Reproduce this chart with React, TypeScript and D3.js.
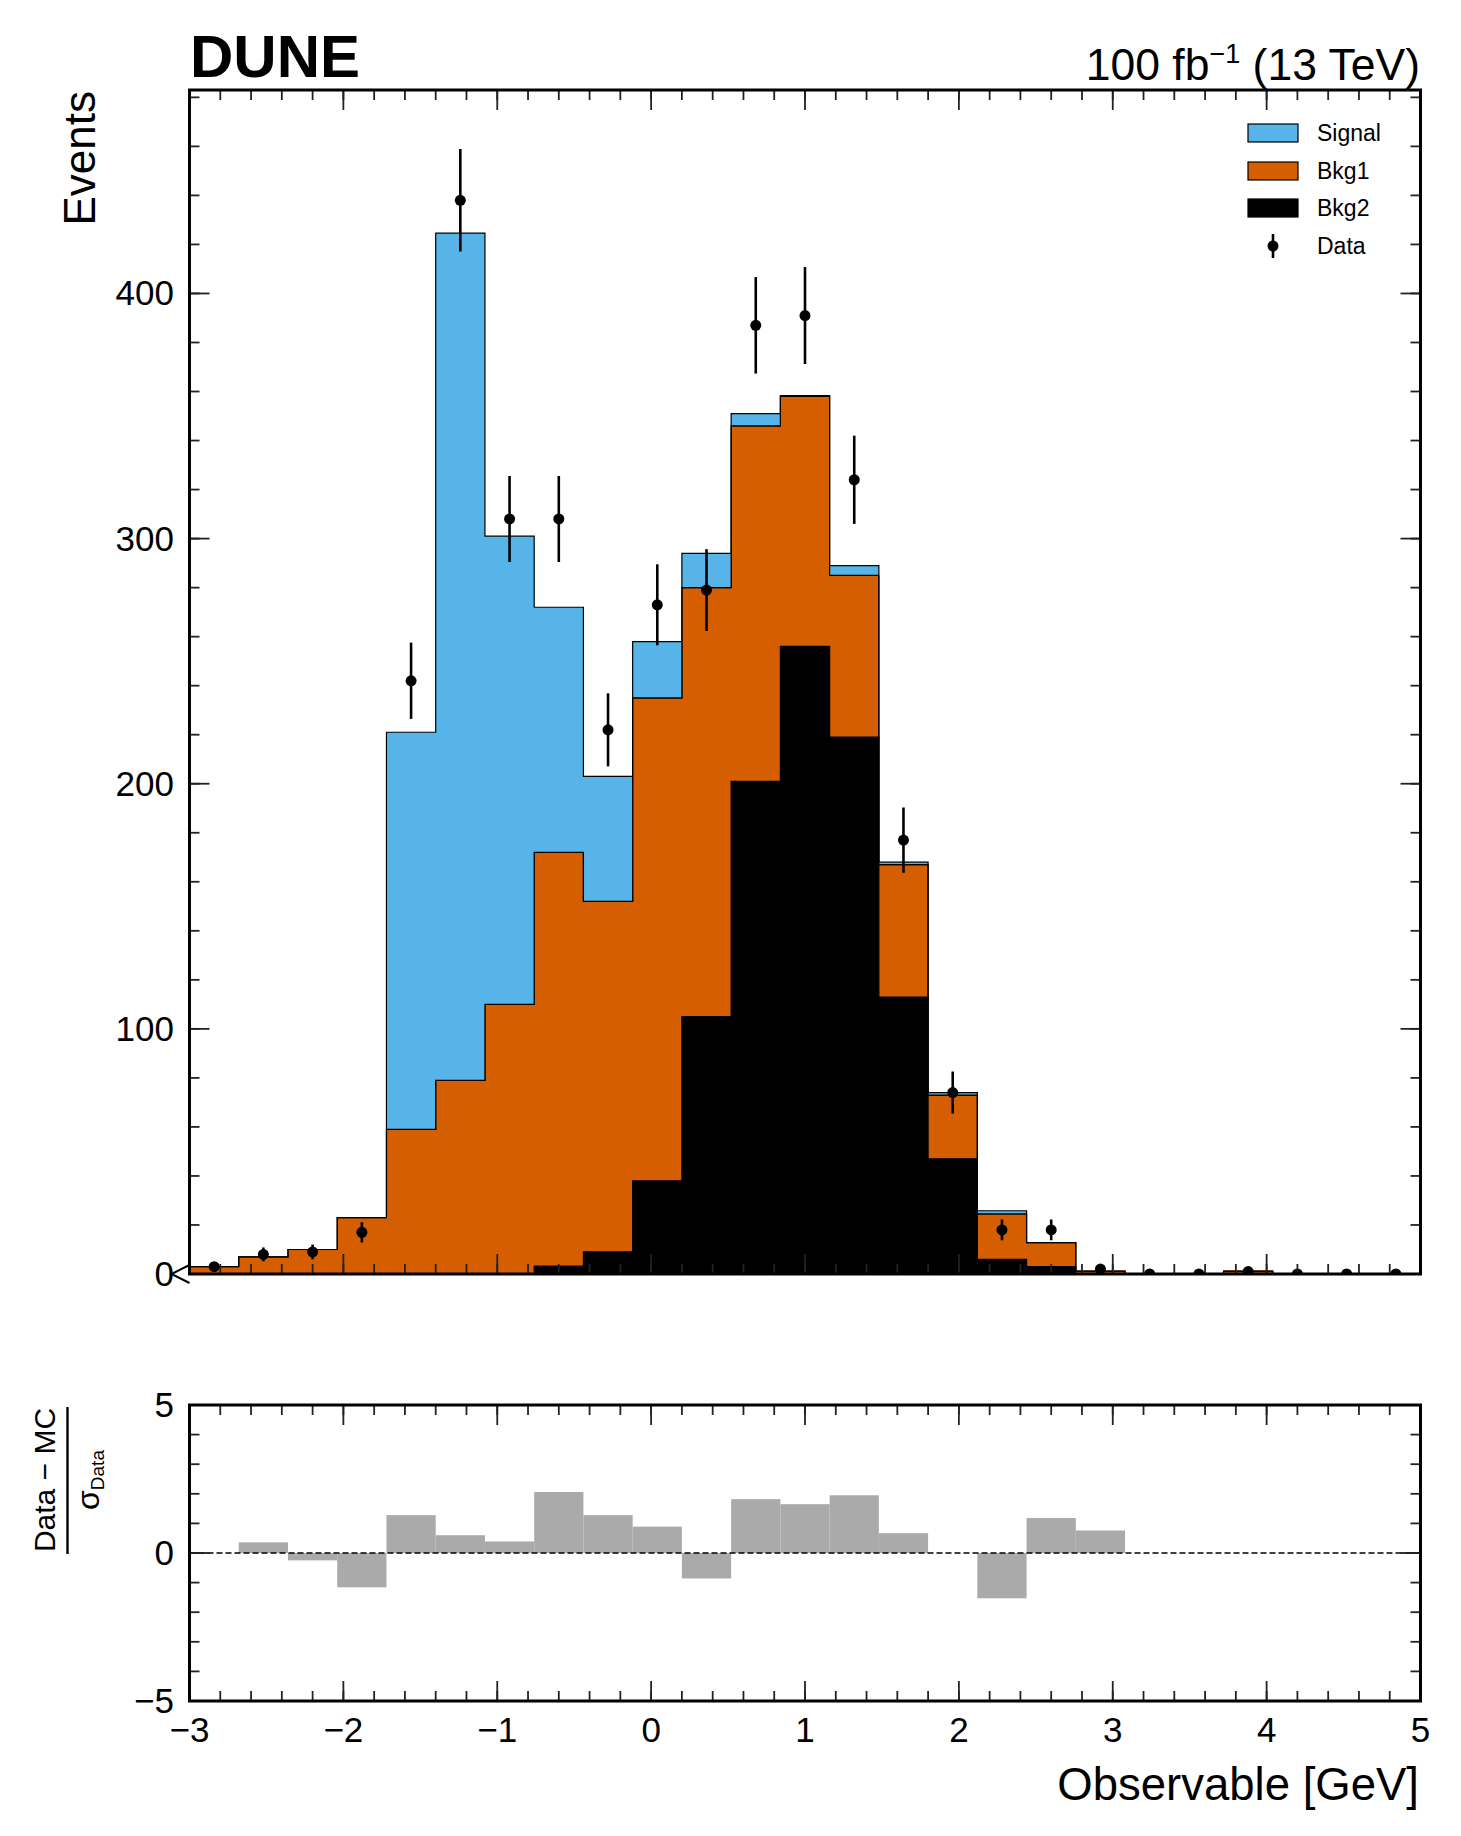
import React from "react";
import * as d3 from "d3";

const binEdges = [-3, -2.68, -2.36, -2.04, -1.72, -1.4, -1.08, -0.76, -0.44, -0.12, 0.2, 0.52, 0.84, 1.16, 1.48, 1.8, 2.12, 2.44, 2.76, 3.08, 3.4, 3.72, 4.04, 4.36, 4.68, 5];

const bkg2 = [0, 0, 0, 0, 0, 0, 0, 3.2, 9, 38, 105, 201, 256, 219, 113, 47, 6, 3, 0, 0, 0, 0, 0, 0, 0];
const bkg1 = [3, 7, 10, 23, 59, 79, 110, 168.8, 143, 197, 175, 145, 102, 66, 54, 26, 18.5, 9.8, 1.2, 0, 0, 1.2, 0, 0, 0];
const signal = [0, 0, 0, 0, 162, 345.6, 191, 100, 51, 23, 14, 5, 0.3, 4, 1, 1, 1.3, 0, 0, 0, 0, 0, 0, 0, 0];
const dataCounts = [3, 8, 9, 17, 242, 438, 308, 308, 222, 273, 279, 387, 391, 324, 177, 74, 18, 18, 2, 0, 0, 1, 0, 0, 0];
const pulls = [0, 0.36, -0.25, -1.16, 1.28, 0.6, 0.39, 2.06, 1.28, 0.89, -0.86, 1.82, 1.65, 1.95, 0.67, 0, -1.53, 1.18, 0.76, 0, 0, 0, 0, 0, 0];

const layerNames = ["Bkg2", "Bkg1", "Signal"];
const layerColors = ["#000000", "#D55E00", "#56B4E9"];
const yTickLabels = [0, 100, 200, 300, 400];
const xTickLabels = [-3, -2, -1, 0, 1, 2, 3, 4, 5];
const pullTickLabels = [-5, 0, 5];

const W = 1461;
const H = 1836;
const L = 189.5;
const R = 1420.5;
const mainTop = 90;
const mainBottom = 1274;
const pullTop = 1405;
const pullBottom = 1701;
const yMax = 483;

const FONT = "'Liberation Sans', Arial, Helvetica, sans-serif";

const fmt = (v: number) => (v < 0 ? "\u2212" + Math.abs(v) : String(v));

export default function App() {
  const x = d3.scaleLinear().domain([-3, 5]).range([L, R]);
  const y = d3.scaleLinear().domain([0, yMax]).range([mainBottom, mainTop]);
  const yp = d3.scaleLinear().domain([-5, 5]).range([pullBottom, pullTop]);

  const layers = [bkg2, bkg1, signal];
  let base = bkg2.map(() => 0);
  const bands = layers.map((vals) => {
    const lower = base.slice();
    const upper = base.map((b, i) => b + vals[i]);
    base = upper;
    return { lower, upper };
  });

  const bandPath = (lower: number[], upper: number[]) => {
    const idx = d3.range(binEdges.length);
    const val = (arr: number[], i: number) => arr[Math.min(i, arr.length - 1)];
    return d3
      .area<number>()
      .curve(d3.curveStepAfter)
      .x((i) => x(binEdges[i]))
      .y0((i) => y(val(lower, i)))
      .y1((i) => y(val(upper, i)))(idx) as string;
  };

  const centers = dataCounts.map((_, i) => (binEdges[i] + binEdges[i + 1]) / 2);

  const majorX = x.ticks(8);
  const minorX = x.ticks(40);
  const majorY = y.ticks(5).filter((v) => v % 100 === 0);
  const minorY = y.ticks(25);
  const majorP = pullTickLabels;
  const minorP = yp.ticks(10);

  const tickW = 1.8;
  const tickColor = "#222";

  const xTicks = (top: number, bottom: number) => (
    <g stroke={tickColor} strokeWidth={tickW}>
      {minorX.map((v, i) => (
        <g key={"mx" + i}>
          <line x1={x(v)} x2={x(v)} y1={top} y2={top + 10} />
          <line x1={x(v)} x2={x(v)} y1={bottom} y2={bottom - 10} />
        </g>
      ))}
      {majorX.map((v, i) => (
        <g key={"Mx" + i}>
          <line x1={x(v)} x2={x(v)} y1={top} y2={top + 20} />
          <line x1={x(v)} x2={x(v)} y1={bottom} y2={bottom - 20} />
        </g>
      ))}
    </g>
  );

  const yTicks = (sc: d3.ScaleLinear<number, number>, minor: number[], major: number[]) => (
    <g stroke={tickColor} strokeWidth={tickW}>
      {minor.map((v, i) => (
        <g key={"my" + i}>
          <line x1={L} x2={L + 10} y1={sc(v)} y2={sc(v)} />
          <line x1={R} x2={R - 10} y1={sc(v)} y2={sc(v)} />
        </g>
      ))}
      {major.map((v, i) => (
        <g key={"My" + i}>
          <line x1={L} x2={L + 20} y1={sc(v)} y2={sc(v)} />
          <line x1={R} x2={R - 20} y1={sc(v)} y2={sc(v)} />
        </g>
      ))}
    </g>
  );

  const legendX = 1248;
  const legendRows = [133, 171, 208, 246];
  const legendItems = [
    { name: layerNames[2], color: layerColors[2] },
    { name: layerNames[1], color: layerColors[1] },
    { name: layerNames[0], color: layerColors[0] },
  ];

  return (
    <svg
      width={W}
      height={H}
      viewBox={`0 0 ${W} ${H}`}
      style={{ position: "absolute", left: 0, top: 0, background: "#fff" }}
      fontFamily={FONT}
    >
      <defs>
        <clipPath id="mainClip">
          <rect x={L} y={mainTop} width={R - L} height={mainBottom - mainTop} />
        </clipPath>
        <clipPath id="pullClip">
          <rect x={L} y={pullTop} width={R - L} height={pullBottom - pullTop} />
        </clipPath>
      </defs>
      <rect x={0} y={0} width={W} height={H} fill="#fff" />

      {/* Main histogram */}
      <g clipPath="url(#mainClip)">
        {bands.map((b, k) => (
          <path
            key={"band" + k}
            d={bandPath(b.lower, b.upper)}
            fill={layerColors[k]}
            stroke="#000"
            strokeWidth={1.2}
            strokeLinejoin="miter"
          />
        ))}
        {dataCounts.map((n, i) => {
          const cx = x(centers[i]);
          const e = Math.sqrt(n);
          return (
            <g key={"d" + i}>
              {n > 0 && (
                <line x1={cx} x2={cx} y1={y(n - e)} y2={y(n + e)} stroke="#000" strokeWidth={2.6} />
              )}
              <circle cx={cx} cy={y(n)} r={5.5} fill="#000" />
            </g>
          );
        })}
      </g>

      {xTicks(mainTop, mainBottom)}
      {yTicks(y, minorY, majorY)}
      <rect x={L} y={mainTop} width={R - L} height={mainBottom - mainTop} fill="none" stroke="#000" strokeWidth={3} />
      <path d={`M${L},${y(0) - 9} L${L - 18},${y(0)} L${L},${y(0) + 9}`} fill="none" stroke="#000" strokeWidth={2} />

      {yTickLabels.map((v) => (
        <text key={"yl" + v} x={174} y={y(v) + 12} fontSize={35} textAnchor="end">
          {fmt(v)}
        </text>
      ))}

      {/* Legend */}
      {legendItems.map((it, i) => (
        <g key={"lg" + i}>
          <rect x={legendX} y={legendRows[i] - 9} width={50} height={18} fill={it.color} stroke="#000" strokeWidth={1.2} />
          <text x={1317} y={legendRows[i] + 8} fontSize={23}>
            {it.name}
          </text>
        </g>
      ))}
      <line x1={1273} x2={1273} y1={legendRows[3] - 12} y2={legendRows[3] + 12} stroke="#000" strokeWidth={2.6} />
      <circle cx={1273} cy={legendRows[3]} r={5.5} fill="#000" />
      <text x={1317} y={legendRows[3] + 8} fontSize={23}>
        Data
      </text>

      {/* Titles */}
      <text x={190} y={77} fontSize={60} fontWeight="bold">
        DUNE
      </text>
      <text x={1420} y={80} fontSize={44.5} textAnchor="end">
        100 fb
        <tspan fontSize={27} dy={-17}>
          {"\u22121"}
        </tspan>
        <tspan dy={17}>{" (13 TeV)"}</tspan>
      </text>
      <text transform="rotate(-90)" x={-91} y={95} fontSize={44} textAnchor="end">
        Events
      </text>

      {/* Pull panel */}
      <g clipPath="url(#pullClip)">
        {pulls.map((p, i) =>
          p !== 0 ? (
            <rect
              key={"p" + i}
              x={x(binEdges[i])}
              width={x(binEdges[i + 1]) - x(binEdges[i])}
              y={Math.min(yp(p), yp(0))}
              height={Math.abs(yp(p) - yp(0))}
              fill="#aaaaaa"
            />
          ) : null
        )}
      </g>
      <line x1={L} x2={R} y1={yp(0)} y2={yp(0)} stroke="#000" strokeWidth={1.5} strokeDasharray="6,3" />
      {xTicks(pullTop, pullBottom)}
      {yTicks(yp, minorP, majorP)}
      <rect x={L} y={pullTop} width={R - L} height={pullBottom - pullTop} fill="none" stroke="#000" strokeWidth={3} />

      {pullTickLabels.map((v) => (
        <text key={"pl" + v} x={174} y={yp(v) + 12} fontSize={35} textAnchor="end">
          {fmt(v)}
        </text>
      ))}
      {xTickLabels.map((v) => (
        <text key={"xl" + v} x={x(v)} y={1742} fontSize={35} textAnchor="middle">
          {fmt(v)}
        </text>
      ))}
      <text x={1419} y={1800} fontSize={45.5} textAnchor="end">
        Observable [GeV]
      </text>

      {/* Pull y label: fraction */}
      <text transform="rotate(-90)" x={-1480} y={55} fontSize={30} textAnchor="middle">
        {"Data \u2212 MC"}
      </text>
      <line x1={67.5} x2={67.5} y1={1407} y2={1554} stroke="#000" strokeWidth={2.4} />
      <text transform="rotate(-90)" x={-1480} y={99} fontSize={32} textAnchor="middle">
        {"\u03c3"}
        <tspan fontSize={19} dy={5}>
          Data
        </tspan>
      </text>
    </svg>
  );
}
